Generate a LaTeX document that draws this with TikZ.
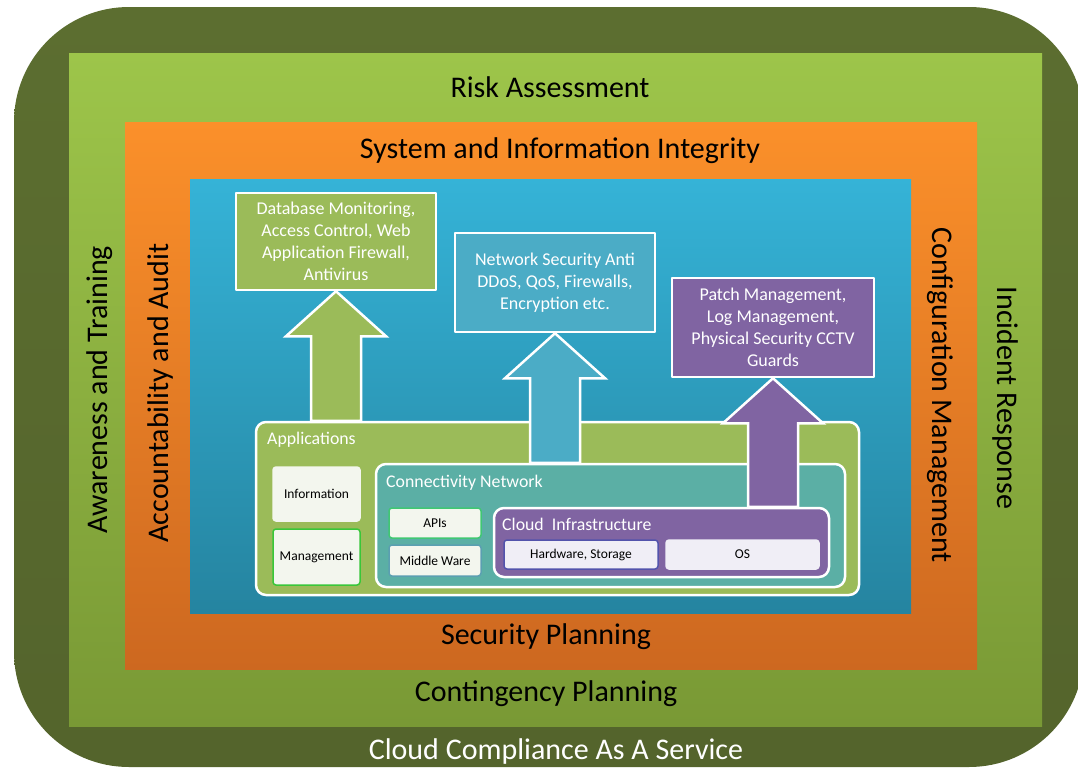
\documentclass[tikz,border=0pt]{standalone}
\usepackage{fontspec}
\setmainfont{Carlito}
\usetikzlibrary{calc,positioning}
\definecolor{olivedark}{RGB}{92,110,48}
\definecolor{olivedarkb}{RGB}{84,100,44}
\definecolor{limetop}{RGB}{157,197,74}
\definecolor{limebot}{RGB}{121,153,53}
\definecolor{orangetop}{RGB}{251,144,42}
\definecolor{orangebot}{RGB}{205,104,32}
\definecolor{cyantop}{RGB}{53,179,215}
\definecolor{cyanbot}{RGB}{37,132,160}
\definecolor{appgreen}{RGB}{155,187,89}
\definecolor{netblue}{RGB}{75,172,198}
\definecolor{infrapurple}{RGB}{128,100,162}
\definecolor{connteal}{RGB}{91,175,165}
\definecolor{paper}{RGB}{243,246,238}
\definecolor{lavender}{RGB}{240,238,246}
\begin{document}
\begin{tikzpicture}[x=1pt,y=-1pt,line join=round,
	band/.style={font=\fontsize{30}{34}\selectfont,inner sep=0pt},
	topbox/.style={draw=white,line width=2.5pt,align=center,text=white,font=\fontsize{18}{22}\selectfont,inner sep=0pt},
	layerbox/.style={draw=white,line width=2.5pt,rounded corners=10pt,inner sep=0pt},
	layerlabel/.style={text=white,font=\fontsize{17.8}{20}\selectfont,anchor=west,inner sep=0pt},
	itembox/.style={rounded corners=3pt,font=\fontsize{13.5}{15}\selectfont,inner sep=0pt,line width=1.5pt},
	arrowbox/.style={draw=white,line width=2.5pt,line join=miter}]
	\def\blockarrow#1#2#3{\draw[arrowbox,fill=#3] let \p1=(#1), \p2=(#2) in
		(\p1) -- (\x1+50pt,\y1-45pt) -- (\x1+25pt,\y1-45pt) -- (\x1+25pt,\y2)
		-- (\x1-25pt,\y2) -- (\x1-25pt,\y1-45pt) -- (\x1-50pt,\y1-45pt) -- cycle;}
	\useasboundingbox (0,0) rectangle (1078,771);
	\shade[rounded corners=115pt,top color=olivedark,bottom color=olivedarkb] (14,7) rectangle (1084,767);
	\shade[top color=limetop,bottom color=limebot] (69,53) rectangle (1042,726);
	\shade[top color=orangetop,bottom color=orangebot] (125,122) rectangle (977,669);
	\shade[top color=cyantop,bottom color=cyanbot] (190,179) rectangle (911,613);
	\node[band] (risk) at (550,87) {Risk Assessment};
	\node[band] (integrity) at (560,151) {System and Information Integrity};
	\node[band,rotate=90] (awareness) at (100,390) {Awareness and Training};
	\node[band,rotate=90] (audit) at (160,393) {Accountability and Audit};
	\node[band,rotate=-90] (config) at (940,395) {Configuration Management};
	\node[band,rotate=-90] (incident) at (1005,398) {Incident Response};
	\node[band] (secplan) at (546,637) {Security Planning};
	\node[band] (contplan) at (546,694) {Contingency Planning};
	\node[band,text=white] (ccaas) at (556,751) {Cloud Compliance As A Service};
	\node[topbox,fill=appgreen,minimum width=200pt,minimum height=97pt] (dbsec) at (336,241.5) {Database Monitoring,\\Access Control, Web\\Application Firewall,\\Antivirus};
	\node[topbox,fill=netblue,minimum width=200pt,minimum height=99pt] (netsec) at (555,282.5) {Network Security Anti\\DDoS, QoS, Firewalls,\\Encryption etc.};
	\node[topbox,fill=infrapurple,minimum width=202pt,minimum height=99pt] (patch) at (773,327.5) {Patch Management,\\Log Management,\\Physical Security CCTV\\Guards};
	\node[layerbox,fill=appgreen,minimum width=603pt,minimum height=173pt] (apps) at (557.5,508.5) {};
	\node[layerlabel] (appslabel) at (267,440) {Applications};
	\node[itembox,fill=paper,draw=paper,minimum width=87pt,minimum height=54pt] (info) at (316.5,494) {Information};
	\node[itembox,fill=paper,draw=green!55!gray,minimum width=87pt,minimum height=56pt] (mgmt) at (316.5,557) {Management};
	\node[layerbox,fill=connteal,minimum width=469pt,minimum height=123pt] (connect) at (610.5,525.5) {};
	\node[layerlabel] (connectlabel) at (386,483) {Connectivity Network};
	\node[itembox,fill=paper,draw=connteal!70!green,minimum width=92pt,minimum height=30pt] (apis) at (435,523) {APIs};
	\node[itembox,fill=paper,draw=netblue!70!gray,minimum width=92pt,minimum height=31pt] (middle) at (435,560.5) {Middle Ware};
	\node[layerbox,fill=infrapurple,minimum width=335pt,minimum height=69pt] (cloud) at (661.5,542.5) {};
	\node[layerlabel] (cloudlabel) at (502,524) {Cloud\ \ Infrastructure};
	\node[itembox,fill=lavender,draw=blue!35!gray,minimum width=154pt,minimum height=29pt] (hw) at (581,554.5) {Hardware, Storage};
	\node[itembox,fill=lavender,draw=lavender,minimum width=153pt,minimum height=29pt] (os) at (742.5,554.5) {OS};
	\blockarrow{dbsec.south}{dbsec.south |- apps.north}{appgreen}
	\blockarrow{netsec.south}{netsec.south |- connect.north}{netblue}
	\blockarrow{patch.south}{patch.south |- cloud.north}{infrapurple}
\end{tikzpicture}
\end{document}
